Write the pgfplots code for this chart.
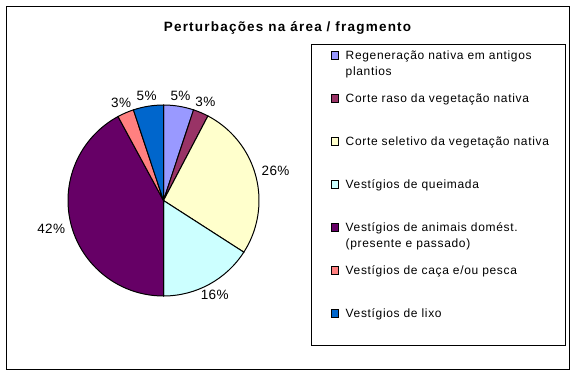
\documentclass[border=0pt]{standalone}
\usepackage{pgfplots}
\pgfplotsset{compat=1.18}
\usepackage{pgfplotstable}
\usepackage{fontspec}
\setmainfont{Liberation Sans}
\newfontfamily\legfont[LetterSpace=5.5]{Liberation Sans}
\newfontfamily\titfont[LetterSpace=9]{Liberation Sans}
\newfontfamily\labfont[LetterSpace=3]{Liberation Sans}
\definecolor{c1}{HTML}{9999FF}
\definecolor{c2}{HTML}{993366}
\definecolor{c3}{HTML}{FFFFCC}
\definecolor{c4}{HTML}{CCFFFF}
\definecolor{c5}{HTML}{660066}
\definecolor{c6}{HTML}{FF8080}
\definecolor{c7}{HTML}{0066CC}
\pgfplotstableread{
val col
5.1 c1
2.6 c2
26.4 c3
15.9 c4
42.1 c5
2.8 c6
5.1 c7
}\piedata
\begin{document}
\begin{tikzpicture}
\path[use as bounding box] (0,0) rectangle (576bp,-375bp);
\draw[line width=1bp] (6.5bp,-6.5bp) rectangle (569bp,-369bp);
\node[anchor=base, inner sep=0pt] at (287.5bp,-31bp) {\titfont\bfseries\fontsize{13.5bp}{16bp}\selectfont Perturbações na área / fragmento};
\begin{axis}[
  x=95.5bp, y=95.5bp,
  xmin=-1, xmax=1, ymin=-1, ymax=1,
  hide axis, clip=false,
  at={(163.5bp,-200.5bp)}, anchor=origin,
]
\def\cum{0}
\pgfplotsforeachungrouped \i in {0,...,6}{%
  \pgfplotstablegetelem{\i}{val}\of\piedata \let\v\pgfplotsretval
  \pgfplotstablegetelem{\i}{col}\of\piedata \let\c\pgfplotsretval
  \pgfmathsetmacro\aA{90-3.6*\cum}%
  \pgfmathsetmacro\aB{90-3.6*(\cum+\v)}%
  \pgfmathsetmacro\aM{(\aA+\aB)/2}%
  \pgfmathtruncatemacro\aN{mod(\aM+180+720,360)}%
  \pgfmathtruncatemacro\lab{round(\v)}%
  \pgfmathsetmacro\cum{\cum+\v}%
  \edef\temp{\noexpand\filldraw[fill=\c, draw=black, line width=1bp] (axis cs:0,0) -- (axis cs:{cos(\aA)},{sin(\aA)}) arc[start angle=\aA, end angle=\aB, radius=95.5bp] -- cycle;
    \noexpand\node[anchor=\aN, inner sep=1bp] at (axis cs:{1.05*cos(\aM)},{1.05*sin(\aM)}) {\noexpand\labfont\noexpand\fontsize{13.5bp}{15bp}\noexpand\selectfont \lab\noexpand\%};}%
  \temp
}
\end{axis}
\draw[line width=1bp] (311.5bp,-44bp) rectangle (565bp,-345bp);
\foreach \c/\t [count=\k from 0] in {
  c1/{Regeneração nativa em antigos\\plantios},
  c2/{Corte raso da vegetação nativa},
  c3/{Corte seletivo da vegetação nativa},
  c4/{Vestígios de queimada},
  c5/{Vestígios de animais domést.\\(presente e passado)},
  c6/{Vestígios de caça e/ou pesca},
  c7/{Vestígios de lixo}}{
  \pgfmathsetmacro\yy{-(55.5+43*\k)}
  \filldraw[fill=\c, draw=black, line width=0.8bp] (331bp,\yy bp+3.75bp) rectangle (338.5bp,\yy bp-3.75bp);
  \node[anchor=base west, inner sep=0pt] at (345.5bp,\yy bp-4.3bp) {\legfont\fontsize{12bp}{16bp}\selectfont\parbox[t]{215bp}{\raggedright \t}};
}
\end{tikzpicture}
\end{document}
